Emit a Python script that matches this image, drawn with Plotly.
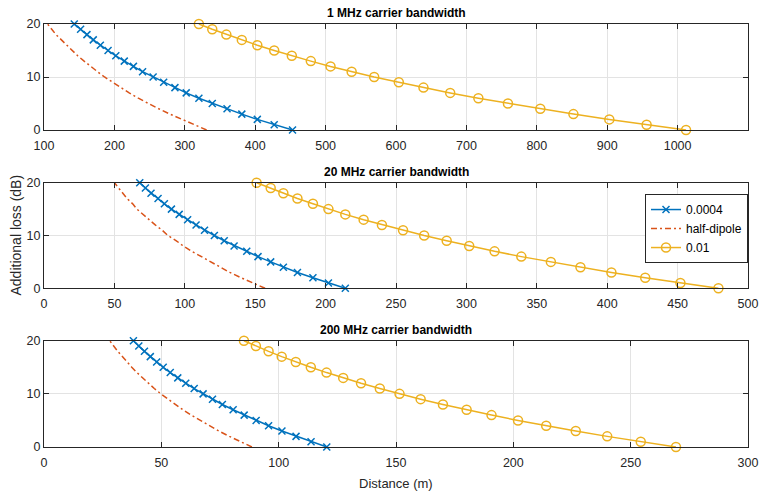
import plotly.graph_objects as go

# Additional loss (dB) values, shared y data
loss_db = [0, 1, 2, 3, 4, 5, 6, 7, 8, 9, 10, 11, 12, 13, 14, 15, 16, 17, 18, 19, 20]

# 1 MHz carrier bandwidth: distances (m)
d1_0004 = [453, 427, 403, 381, 360, 339, 320, 302, 286, 270, 255, 240, 227, 214, 202, 191, 180, 170, 161, 152, 143]
d1_dip = [331, 313, 295, 279, 263, 248, 234, 221, 209, 197, 186, 176, 166, 157, 148, 140, 132, 124, 117, 111, 105]
d1_001 = [1012, 956, 903, 852, 805, 759, 717, 677, 639, 604, 569, 537, 507, 479, 452, 427, 403, 381, 359, 339, 320]

# 20 MHz carrier bandwidth
d20_0004 = [214, 202, 191, 180, 170, 161, 152, 144, 135, 128, 121, 114, 108, 102, 96, 90.5, 85.5, 81, 76, 72, 68]
d20_dip = [157, 148, 140, 132, 125, 118, 111, 105, 99, 94, 88, 84, 79, 74.5, 70, 66, 63, 59, 56, 53, 50]
d20_001 = [479, 452, 427, 403, 381, 360, 339, 320, 302, 286, 270, 255, 240, 227, 214, 202, 191, 180, 170, 161, 151]

# 200 MHz carrier bandwidth
d200_0004 = [120.5, 113.8, 107.4, 101.4, 95.7, 90.4, 85.3, 80.6, 76.0, 71.8, 67.8, 64.0, 60.4, 57.0, 53.8, 50.8, 48.0, 45.3, 42.8, 40.4, 38.1]
d200_dip = [88.6, 83.6, 79.0, 74.5, 70.4, 66.4, 62.7, 59.2, 55.9, 52.8, 49.8, 47.0, 44.4, 41.9, 39.6, 37.4, 35.3, 33.3, 31.4, 29.7, 28.0]
d200_001 = [269.3, 254.3, 240.0, 226.6, 214.0, 202.0, 190.7, 180.1, 170.0, 160.5, 151.5, 143.1, 135.1, 127.5, 120.4, 113.7, 107.3, 101.3, 95.7, 90.3, 85.2]

titles = ["1 MHz carrier bandwidth", "20 MHz carrier bandwidth", "200 MHz carrier bandwidth"]
series_names = ["0.0004", "half-dipole", "0.01"]
x_ranges = [[100, 1100], [0, 500], [0, 300]]
x_ticks = [
    [100, 200, 300, 400, 500, 600, 700, 800, 900, 1000, 1100],
    [0, 50, 100, 150, 200, 250, 300, 350, 400, 450, 500],
    [0, 50, 100, 150, 200, 250, 300],
]
y_ticks = [0, 10, 20]

BLUE = "#0072BD"
RED = "#D95319"
YEL = "#EDB120"
AX = "#262626"
GRID = "#e3e3e3"
FONT = "Liberation Sans, Arial, sans-serif"
TICKFONT = "Liberation Sans Narrow, Arial Narrow, Liberation Sans, sans-serif"

panels = [
    (d1_0004, d1_dip, d1_001),
    (d20_0004, d20_dip, d20_001),
    (d200_0004, d200_dip, d200_001),
]
domains = [[0.7494, 1.0], [0.3752, 0.6248], [0.0, 0.2513]]

fig = go.Figure()
for i, (a, b, c) in enumerate(panels):
    xa = "x" if i == 0 else f"x{i+1}"
    ya = "y" if i == 0 else f"y{i+1}"
    show = (i == 1)
    fig.add_trace(go.Scatter(
        x=a, y=loss_db, xaxis=xa, yaxis=ya, name=series_names[0], showlegend=show,
        mode="lines+markers", cliponaxis=False,
        line=dict(color=BLUE, width=1.5),
        marker=dict(symbol="x-thin", size=7, line=dict(color=BLUE, width=1.5), color=BLUE),
    ))
    fig.add_trace(go.Scatter(
        x=b, y=loss_db, xaxis=xa, yaxis=ya, name=series_names[1], showlegend=show,
        mode="lines", cliponaxis=False,
        line=dict(color=RED, width=1.5, dash="6px,3px,2px,3px"),
    ))
    fig.add_trace(go.Scatter(
        x=c, y=loss_db, xaxis=xa, yaxis=ya, name=series_names[2], showlegend=show,
        mode="lines+markers", cliponaxis=False,
        line=dict(color=YEL, width=1.5),
        marker=dict(symbol="circle-open", size=9, line=dict(color=YEL, width=1.5), color=YEL),
    ))

layout = dict(
    width=761, height=495,
    margin=dict(l=44, r=13, t=24, b=48),
    paper_bgcolor="white", plot_bgcolor="white",
    font=dict(family=FONT, size=12, color=AX),
    legend=dict(
        x=1.0, xanchor="right", y=0.598, yanchor="top",
        bgcolor="white", bordercolor=AX, borderwidth=1,
        font=dict(family=TICKFONT, size=12, color="#000000"),
        tracegroupgap=0, itemwidth=30,
    ),
    annotations=[],
)

for i in range(3):
    xk = "xaxis" if i == 0 else f"xaxis{i+1}"
    yk = "yaxis" if i == 0 else f"yaxis{i+1}"
    ya = "y" if i == 0 else f"y{i+1}"
    xa = "x" if i == 0 else f"x{i+1}"
    layout[xk] = dict(
        domain=[0, 1], anchor=ya, range=x_ranges[i], tickvals=x_ticks[i],
        showline=True, linecolor=AX, linewidth=1, mirror="ticks",
        ticks="inside", ticklen=5, tickcolor=AX, tickwidth=1,
        showgrid=True, gridcolor=GRID, gridwidth=1, zeroline=False,
        automargin=False, ticklabelstandoff=4,
        tickfont=dict(family=TICKFONT, size=12.5, color=AX),
    )
    layout[yk] = dict(
        domain=domains[i], anchor=xa, range=[0, 20], tickvals=y_ticks,
        showline=True, linecolor=AX, linewidth=1, mirror="ticks",
        ticks="inside", ticklen=5, tickcolor=AX, tickwidth=1,
        showgrid=True, gridcolor=GRID, gridwidth=1, zeroline=False,
        automargin=False,
        tickfont=dict(family=TICKFONT, size=12.5, color=AX),
    )
    layout["annotations"].append(dict(
        text=f"<b>{titles[i]}</b>", xref=f"{xa} domain", yref=f"{ya} domain",
        x=0.5, y=1, xanchor="center", yanchor="bottom", yshift=2, showarrow=False,
        font=dict(family=FONT, size=12, color="#000000"),
    ))

layout["annotations"].append(dict(
    text="Distance (m)", xref="paper", yref="paper", x=0.5, y=0, yshift=-27,
    xanchor="center", yanchor="top", showarrow=False,
    font=dict(family=FONT, size=13, color=AX),
))
layout["annotations"].append(dict(
    text="Additional loss (dB)", xref="paper", yref="paper", x=0, xshift=-29, y=0.5,
    xanchor="center", yanchor="middle", textangle=-90, showarrow=False,
    font=dict(family=FONT, size=14, color=AX),
))

fig.update_layout(**layout)
fig.write_html("out.html")
